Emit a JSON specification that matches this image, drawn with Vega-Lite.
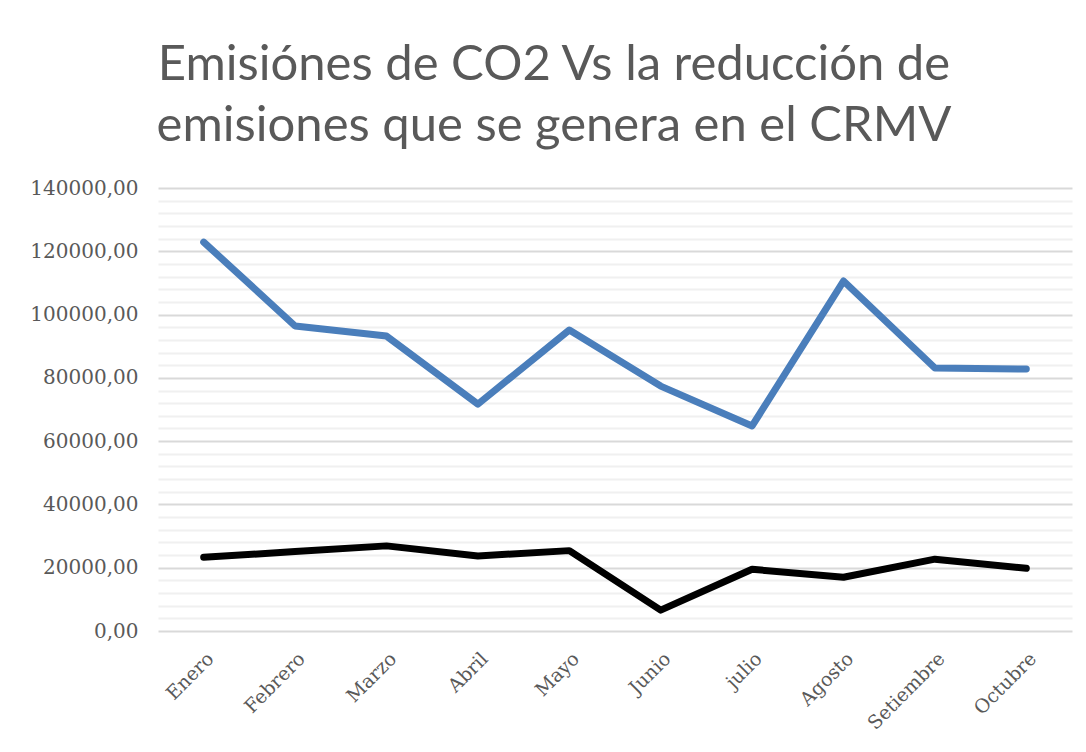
{
  "$schema": "https://vega.github.io/schema/vega-lite/v6.json",
  "autosize": "none",
  "width": 914,
  "height": 443,
  "padding": {"left": 158, "top": 188, "right": 14, "bottom": 121},
  "background": "white",
  "title": {
    "text": ["Emisiónes de CO2 Vs la reducción de", "emisiones que se genera en el CRMV"],
    "font": "Lato",
    "fontSize": 49,
    "fontWeight": "normal",
    "color": "#595959",
    "lineHeight": 61,
    "anchor": "middle",
    "frame": "group",
    "dx": -61,
    "offset": 27
  },
  "config": {"view": {"stroke": null}},
  "data": {
    "values": [
      {"mes": "Enero", "serie": "Emisiones de CO2", "valor": 122900},
      {"mes": "Febrero", "serie": "Emisiones de CO2", "valor": 96400},
      {"mes": "Marzo", "serie": "Emisiones de CO2", "valor": 93200},
      {"mes": "Abril", "serie": "Emisiones de CO2", "valor": 71700},
      {"mes": "Mayo", "serie": "Emisiones de CO2", "valor": 95100},
      {"mes": "Junio", "serie": "Emisiones de CO2", "valor": 77400},
      {"mes": "julio", "serie": "Emisiones de CO2", "valor": 64800},
      {"mes": "Agosto", "serie": "Emisiones de CO2", "valor": 110600},
      {"mes": "Setiembre", "serie": "Emisiones de CO2", "valor": 83100},
      {"mes": "Octubre", "serie": "Emisiones de CO2", "valor": 82800},
      {"mes": "Enero", "serie": "Reducción de emisiones", "valor": 23300},
      {"mes": "Febrero", "serie": "Reducción de emisiones", "valor": 25100},
      {"mes": "Marzo", "serie": "Reducción de emisiones", "valor": 26900},
      {"mes": "Abril", "serie": "Reducción de emisiones", "valor": 23700},
      {"mes": "Mayo", "serie": "Reducción de emisiones", "valor": 25400},
      {"mes": "Junio", "serie": "Reducción de emisiones", "valor": 6600},
      {"mes": "julio", "serie": "Reducción de emisiones", "valor": 19500},
      {"mes": "Agosto", "serie": "Reducción de emisiones", "valor": 17000},
      {"mes": "Setiembre", "serie": "Reducción de emisiones", "valor": 22700},
      {"mes": "Octubre", "serie": "Reducción de emisiones", "valor": 19800}
    ]
  },
  "mark": {"type": "line", "strokeWidth": 7, "strokeCap": "round", "strokeJoin": "round"},
  "encoding": {
    "x": {
      "field": "mes",
      "type": "nominal",
      "sort": ["Enero", "Febrero", "Marzo", "Abril", "Mayo", "Junio", "julio", "Agosto", "Setiembre", "Octubre"],
      "scale": {"paddingInner": 0, "paddingOuter": 0.5},
      "axis": {
        "title": null,
        "labelAngle": -45,
        "labelFont": "DejaVu Serif",
        "labelFontSize": 19,
        "labelColor": "#595959",
        "labelPadding": 18,
        "ticks": false,
        "domain": false,
        "grid": false
      }
    },
    "y": {
      "field": "valor",
      "type": "quantitative",
      "scale": {"domain": [0, 140000], "nice": false},
      "axis": {
        "title": null,
        "values": [0, 4000, 8000, 12000, 16000, 20000, 24000, 28000, 32000, 36000, 40000, 44000, 48000, 52000, 56000, 60000, 64000, 68000, 72000, 76000, 80000, 84000, 88000, 92000, 96000, 100000, 104000, 108000, 112000, 116000, 120000, 124000, 128000, 132000, 136000, 140000],
        "labelExpr": "datum.value % 20000 === 0 ? replace(format(datum.value, '.2f'), '.', ',') : ''",
        "labelOverlap": false,
        "labelFont": "DejaVu Serif",
        "labelFontSize": 20,
        "labelColor": "#595959",
        "labelPadding": 20,
        "ticks": false,
        "domain": false,
        "grid": true,
        "gridWidth": 2,
        "gridColor": {"condition": {"test": "datum.value % 20000 === 0", "value": "#d9d9d9"}, "value": "#f0f0f0"}
      }
    },
    "color": {
      "field": "serie",
      "type": "nominal",
      "scale": {"domain": ["Emisiones de CO2", "Reducción de emisiones"], "range": ["#4a7ebb", "#000000"]},
      "legend": null
    }
  }
}
